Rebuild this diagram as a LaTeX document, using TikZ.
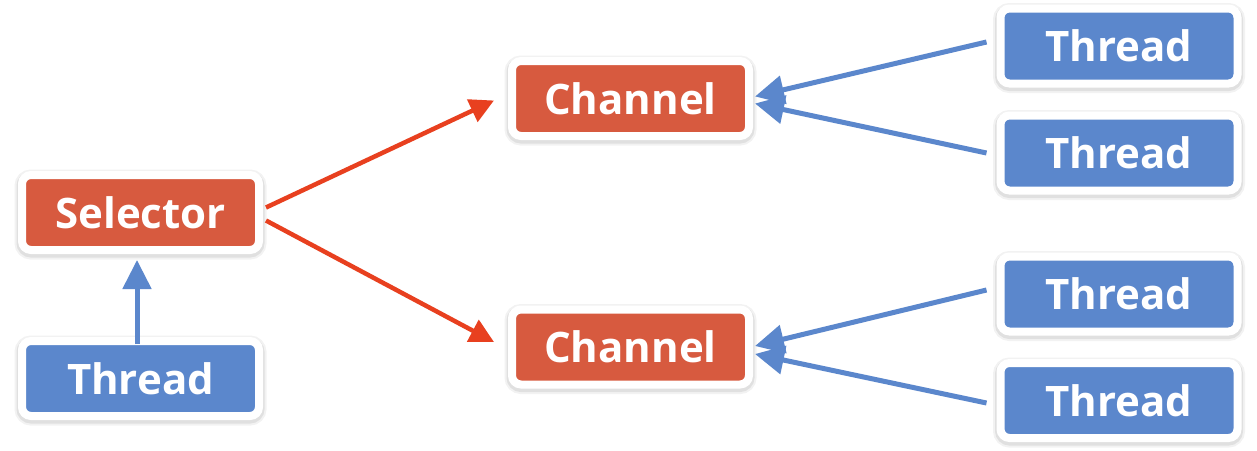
\documentclass[tikz,border=0pt]{standalone}
\usepackage{fontspec}
\setmainfont{Open Sans}
\usetikzlibrary{arrows.meta}
\definecolor{boxred}{HTML}{D75A3F}
\definecolor{boxblue}{HTML}{5B87CC}
\definecolor{arrred}{HTML}{E8401F}
\definecolor{arrblue}{HTML}{5B87CC}
\tikzset{
  box/.style={rounded corners=9pt, draw=white, line width=8pt,
    minimum width=237pt, minimum height=75pt, inner sep=0pt,
    text=white, font=\fontsize{42}{48}\selectfont\bfseries,
    preaction={draw=black, draw opacity=0.05, line width=15pt, transform canvas={yshift=-2pt}},
    preaction={draw=black, draw opacity=0.07, line width=11pt, transform canvas={yshift=-2pt}}},
  redbox/.style={box, fill=boxred},
  bluebox/.style={box, fill=boxblue},
  redarrow/.style={draw=arrred, line width=4.5pt, -{Triangle[length=24pt,width=24pt]}},
  bluearrow/.style={draw=arrblue, line width=5pt, -{Triangle[length=29pt,width=28pt]}}
}
\begin{document}
\begin{tikzpicture}[x=1pt,y=-1pt]
\useasboundingbox[fill=white] (0,0) rectangle (1257,450);
\node[redbox] (sel) at (140.5,212.5) {Selector};
\node[bluebox] (t0) at (140.5,378.5) {Thread};
\node[redbox] (c1) at (630.5,98.5) {Channel};
\node[redbox] (c2) at (630.5,347) {Channel};
\node[bluebox] (t1) at (1119,46) {Thread};
\node[bluebox] (t2) at (1119,153) {Thread};
\node[bluebox] (t3) at (1119,294) {Thread};
\node[bluebox] (t4) at (1119,400.5) {Thread};

\draw[bluearrow] ([xshift=-3.5pt,yshift=-7pt]t0.north) -- ([xshift=-3.5pt,yshift=-6pt]sel.south);
\draw[redarrow] ([xshift=3pt,yshift=5pt]sel.east) -- ([xshift=-14pt,yshift=-2pt]c1.west);
\draw[redarrow] ([xshift=3pt,yshift=-8pt]sel.east) -- ([xshift=-14pt,yshift=5pt]c2.west);
\draw[bluearrow] ([xshift=-10pt,yshift=4pt]t1.west) -- ([xshift=2pt,yshift=2pt]c1.east);
\draw[bluearrow] ([xshift=-10pt,yshift=0pt]t2.west) -- ([xshift=2pt,yshift=-5pt]c1.east);
\draw[bluearrow] ([xshift=-10pt,yshift=4pt]t3.west) -- ([xshift=2pt,yshift=1pt]c2.east);
\draw[bluearrow] ([xshift=-10pt,yshift=-2.5pt]t4.west) -- ([xshift=2pt,yshift=-7pt]c2.east);
\end{tikzpicture}
\end{document}
